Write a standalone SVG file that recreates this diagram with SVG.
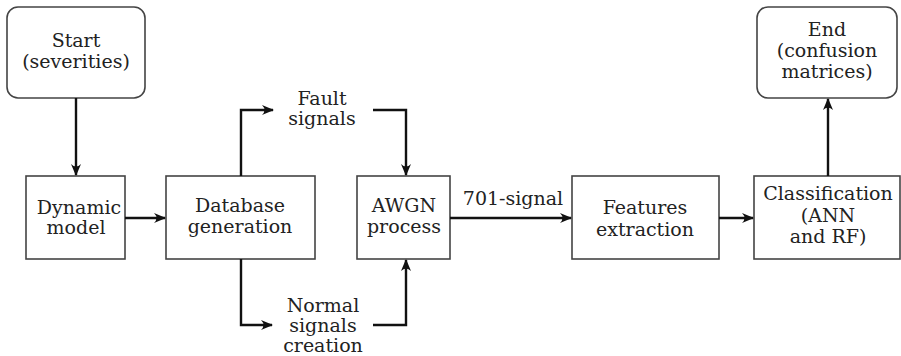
<svg xmlns="http://www.w3.org/2000/svg" width="901" height="356" viewBox="0 0 901 356">
<defs>
<marker id="ah" viewBox="0 0 12 10" refX="11" refY="5" markerWidth="12" markerHeight="10" markerUnits="userSpaceOnUse" orient="auto">
<path d="M0,0 Q5,5 0,10 L12,5 Z" fill="#111"/>
</marker>
</defs>
<style>
.box{fill:#fff;stroke:#444;stroke-width:1.6}
text{font-family:'DejaVu Serif','Liberation Serif',serif;font-size:19px;fill:#222;text-anchor:middle}
.c{fill:none;stroke:#111;stroke-width:2.4}
</style>
<rect width="901" height="356" fill="#fff"/>
<g id="start"><rect class="box" x="7" y="7" width="138" height="91" rx="11"/>
<text x="76" y="47">Start</text><text x="76" y="68">(severities)</text></g>
<g id="dynamic"><rect class="box" x="26" y="176" width="99" height="83"/>
<text x="79" y="214">Dynamic</text><text x="76" y="234">model</text></g>
<g id="database"><rect class="box" x="166" y="176" width="149" height="83"/>
<text x="240" y="212">Database</text><text x="240" y="233">generation</text></g>
<g id="fault"><text x="322" y="105">Fault</text><text x="322" y="125">signals</text></g>
<g id="normal"><text x="323" y="312">Normal</text><text x="323" y="332">signals</text><text x="323" y="352">creation</text></g>
<g id="awgn"><rect class="box" x="357" y="176" width="93" height="83"/>
<text x="404" y="212">AWGN</text><text x="404" y="233">process</text></g>
<g id="features"><rect class="box" x="572" y="176" width="147" height="83"/>
<text x="645" y="214">Features</text><text x="645" y="236">extraction</text></g>
<g id="classification"><rect class="box" x="754" y="176" width="146" height="83"/>
<text x="828" y="200">Classification</text><text x="828" y="222">(ANN</text><text x="828" y="243">and RF)</text></g>
<g id="end"><rect class="box" x="757" y="7" width="140" height="91" rx="11"/>
<text x="827" y="36">End</text><text x="827" y="57">(confusion</text><text x="827" y="78">matrices)</text></g>
<g id="connectors">
<path class="c" d="M76,98 V175" marker-end="url(#ah)"/>
<path class="c" d="M125,218 H165" marker-end="url(#ah)"/>
<path class="c" d="M241,176 V110 H273" marker-end="url(#ah)"/>
<path class="c" d="M241,259 V325 H272" marker-end="url(#ah)"/>
<path class="c" d="M373,110 H406 V175" marker-end="url(#ah)"/>
<path class="c" d="M373,325 H406 V260" marker-end="url(#ah)"/>
<path class="c" d="M450,218 H571" marker-end="url(#ah)"/>
<text x="513" y="205">701-signal</text>
<path class="c" d="M719,218 H753" marker-end="url(#ah)"/>
<path class="c" d="M828,176 V99" marker-end="url(#ah)"/>
</g>
</svg>
